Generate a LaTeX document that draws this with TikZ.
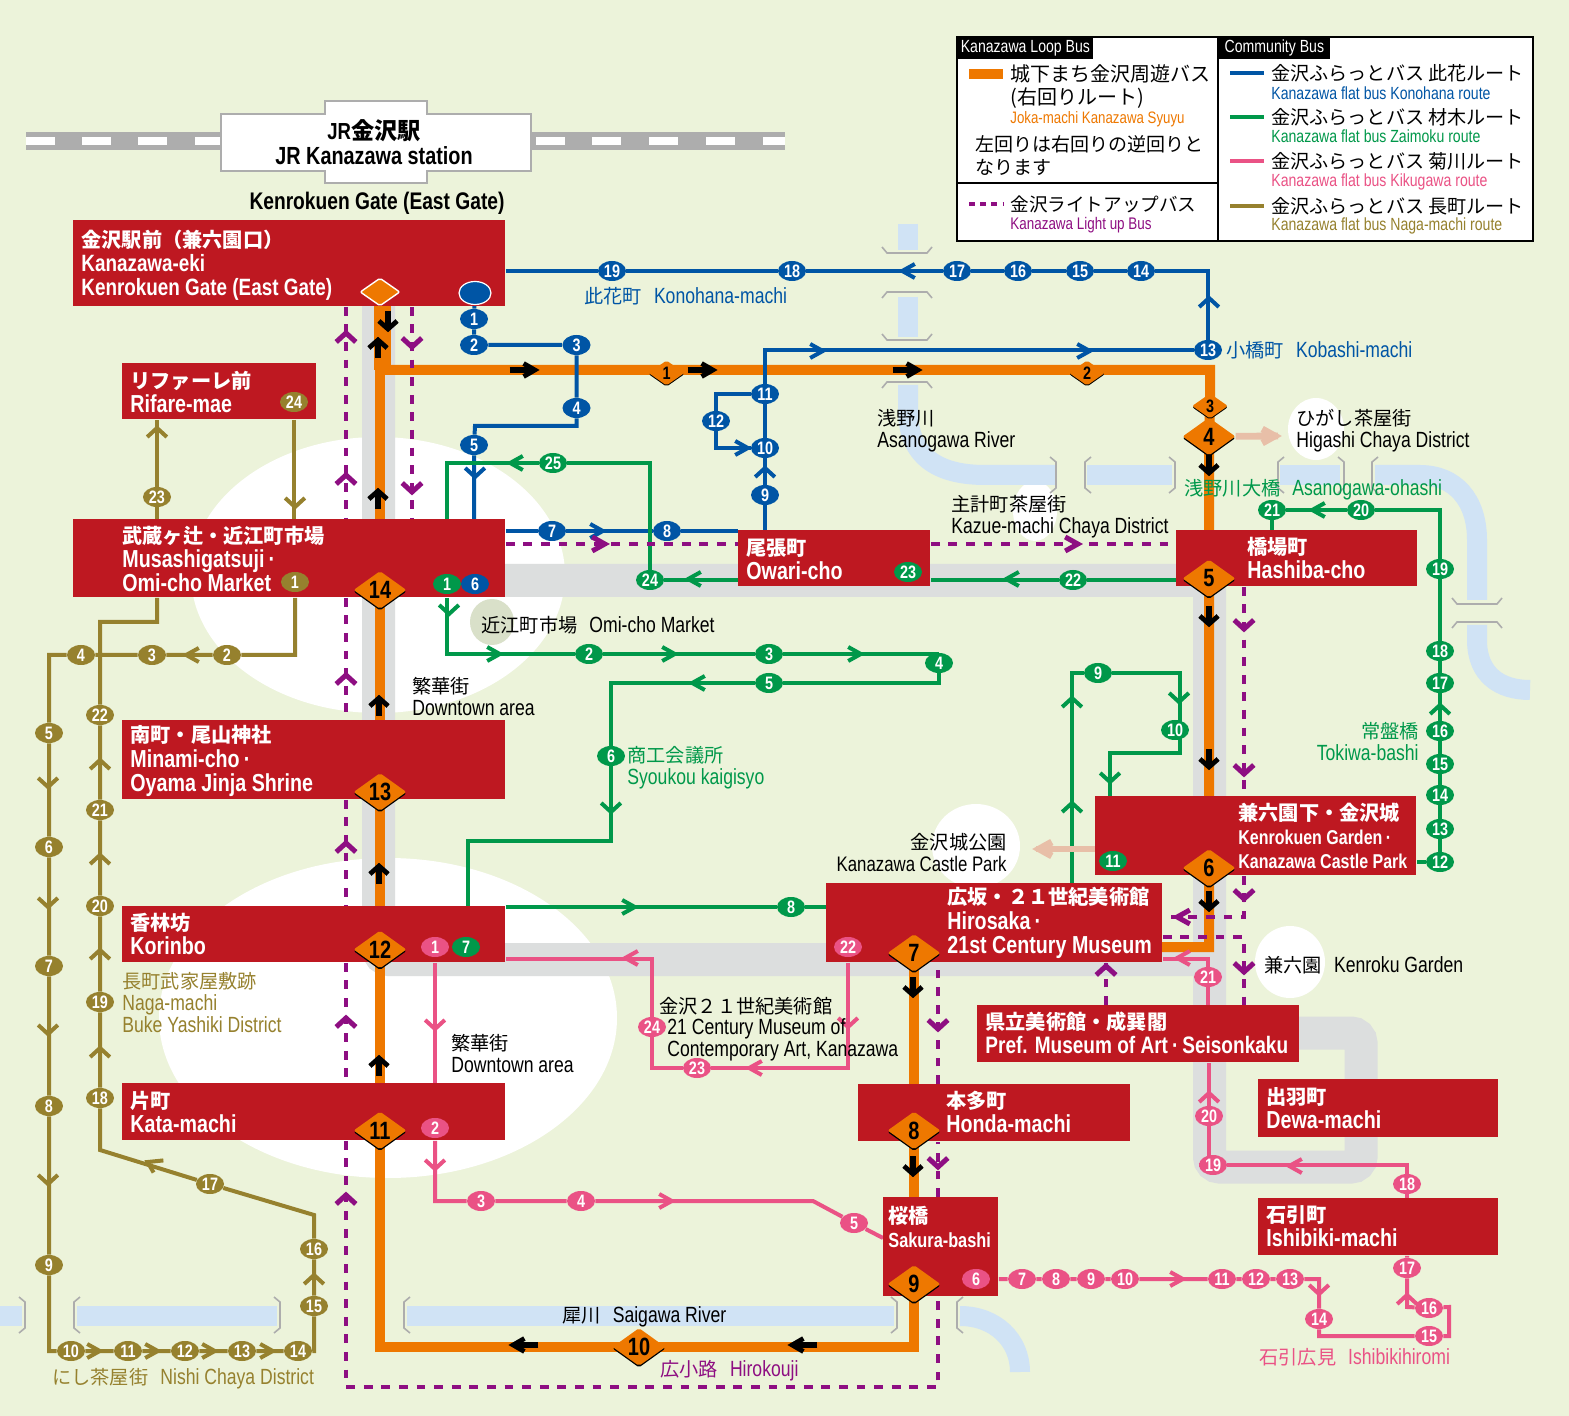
\documentclass[tikz,border=0pt]{standalone}
\usepackage{fontspec}
\setmainfont[FakeStretch=.8]{Liberation Sans}
\newfontfamily\jpf{Noto Sans CJK JP}
\newcommand{\jp}[1]{{\jpf #1}}
\newcommand{\jb}[1]{{\jpf\fontsize{10.1}{12.1}\selectfont #1}}
\newcommand{\jl}[1]{{\jpf\fontsize{9.6}{11}\selectfont #1}}
\usetikzlibrary{shapes.geometric,calc}
\pgfdeclarelayer{back}
\pgfdeclarelayer{rt}
\pgfsetlayers{back,rt,main}
\definecolor{cbg}{HTML}{ECF3DA}
\definecolor{cred}{HTML}{BE1821}
\definecolor{cor}{HTML}{EE7800}
\definecolor{cbl}{HTML}{0055A5}
\definecolor{cgr}{HTML}{00984A}
\definecolor{cpk}{HTML}{EA5285}
\definecolor{col}{HTML}{96812E}
\definecolor{cpu}{HTML}{8E0E82}
\definecolor{crv}{HTML}{D0E3F5}
\definecolor{crd}{HTML}{DCDEDE}
\definecolor{crl}{HTML}{ADADAD}
\definecolor{cpl}{HTML}{E8BFA8}
\tikzset{
  redbox/.style={fill=cred,anchor=north west,inner sep=0pt},
  boxtxt/.style={anchor=west,align=left,inner sep=0pt,text=white,font=\bfseries\fontsize{#1}{12.1}\selectfont},
  boxtxt/.default=12.3,
  lab/.style={anchor=west,align=left,inner sep=0pt,font=\fontsize{11}{11}\selectfont},
  legt/.style={anchor=west,inner sep=0pt,font=\fontsize{#1}{11}\selectfont},
  legt/.default=10,
  legs/.style={anchor=west,inner sep=0pt,font=\fontsize{#1}{10}\selectfont},
  legs/.default=8.8,
  stopn/.style={ellipse,inner sep=0pt,minimum width=14pt,minimum height=10pt,text=white,font=\bfseries\fontsize{9}{9}\selectfont},
  stopb/.style={stopn,fill=cbl},
  stopg/.style={stopn,fill=cgr},
  stopp/.style={stopn,fill=cpk},
  stopo/.style={stopn,fill=col},
  dgt/.style={inner sep=0pt,text=black,font=\bfseries\fontsize{12.5}{13}\selectfont},
  dia/.style={diamond,aspect=1.38,inner sep=0pt,minimum width=26.5pt,minimum height=19pt,fill=cor,rounded corners=1pt,preaction={fill=black,transform canvas={yshift=-.8pt}}},
  dias/.style={diamond,aspect=1.45,inner sep=0pt,minimum width=18pt,minimum height=12.6pt,fill=cor,rounded corners=1pt,preaction={fill=black,transform canvas={yshift=-.6pt}}},
  blul/.style={draw=cbl,line width=2pt},
  grnl/.style={draw=cgr,line width=2pt},
  pnkl/.style={draw=cpk,line width=2pt},
  olvl/.style={draw=col,line width=2pt},
  orgl/.style={draw=cor,line width=5pt},
  purl/.style={draw=cpu,line width=2.2pt,dash pattern=on 4.4pt off 4.4pt},
  palel/.style={draw=cpl,line width=3.4pt},
  river/.style={draw=crv,line width=10pt},
  road/.style={draw=crd,line width=16.5pt},
  hdg/.style={xscale=1.4,rotate=#1},
  pics/tip/.style={code={\draw[line width=#1,miter limit=8] (-7,-7) -- (2,0) -- (-7,7);}},
  pics/tip/.default=2pt,
  pics/blk/.style={code={\draw[line width=2.6pt] (-11,0) -- (6,0);\draw[line width=2.4pt,miter limit=8] (-1,-6.5) -- (7,0) -- (-1,6.5);}},
  pics/brg/.style={code={\draw[crl,line width=.8pt] (-#1,-3) -- (-#1+5,3) -- (#1-5,3) -- (#1,-3);}},
}
\begin{document}
\begin{tikzpicture}[x=.5pt,y=-.5pt]
\useasboundingbox (0,0) rectangle (1569,1416);

\begin{pgfonlayer}{back}
\fill[cbg] (0,0) rectangle (1569,1416);
% town areas
\fill[white] (378,575) ellipse [x radius=187,y radius=138];
\fill[white] (388,1018) ellipse [x radius=229,y radius=160];
\fill[white] (1316,429) ellipse [x radius=28,y radius=31];
\fill[white] (1035,511) ellipse [x radius=22,y radius=30];
\fill[white] (976,846) ellipse [x radius=44,y radius=42];
\fill[white] (1290,962) ellipse [x radius=35,y radius=36];
\fill[black!8!cbg] (492,622) ellipse [x radius=22,y radius=23];
% rivers
\draw[river] (908,224) -- (908,250);
\draw[river] (908,297) -- (908,337);
\draw[river] (908,385) -- (908,410) .. controls (908,450) and (930,475) .. (985,475) -- (1055,475);
\draw[river] (1087,475) -- (1172,475);
\draw[river] (1280,475) -- (1340,475);
\draw[river] (1375,475) -- (1420,475) .. controls (1455,475) and (1477,500) .. (1477,540) -- (1477,600);
\draw[river] (1477,625) -- (1477,640) .. controls (1477,675) and (1500,690) .. (1530,690);
\draw[river] (0,1316) -- (22,1316);
\draw[river] (77,1316) -- (277,1316);
\draw[river] (407,1316) -- (894,1316);
\draw[river] (960,1316) .. controls (995,1316) and (1020,1340) .. (1020,1372);
% roads
\draw[road,rounded corners=5pt] (378.5,306) -- (378.5,959.5) -- (1209.5,959.5);
\draw[road,rounded corners=5pt] (505,580.5) -- (1209.5,580.5) -- (1209.5,1167) -- (1361,1167) -- (1361,1033) -- (1290,1033);
% bridges
\foreach \x/\y in {907/250,907/337,1477/601} \pic at (\x,\y) {brg=25};
\foreach \x/\y in {907/295,907/385,1477/625} \pic[yscale=-1] at (\x,\y) {brg=25};
\foreach \x/\y in {1053/475,1172/475,1341/475,22/1315,277/1315,894/1315} \pic[rotate=90] at (\x,\y) {brg=18};
\foreach \x/\y in {1088/475,1281/475,1375/475,77/1315,407/1315,960/1315} \pic[rotate=90,yscale=-1] at (\x,\y) {brg=18};
% railway
\fill[crl] (26,132) rectangle (785,150);
\foreach \x in {26,82,138,195,536,592,649,706,763} \fill[white] (\x,137.5) rectangle ({min(\x+28.5,785)},145.5);
\end{pgfonlayer}

% station
\draw[crl,fill=white,line width=1.4pt] (221,114) -- (325,114) -- (325,101) -- (427,101) -- (427,114) -- (531,114) -- (531,171) -- (427,171) -- (427,183) -- (325,183) -- (325,171) -- (221,171) -- cycle;
\node[font=\bfseries\fontsize{11.6}{12}\selectfont,inner sep=0pt] (jrjp) at (374,131) {JR\jp{金沢駅}};
\node[font=\bfseries\fontsize{12.4}{12}\selectfont,inner sep=0pt] (jren) at (374,156) {JR Kanazawa station};
\node[font=\bfseries\fontsize{12}{12}\selectfont,inner sep=0pt] (gate) at (377,203) {Kenrokuen Gate (East Gate)};

% stop boxes
\foreach \n/\xa/\ya/\w/\h in {kanaz/73/220/432/86,rifa/122/363/194/56,musa/73/519/432/78,mina/122/720/383/79,kori/122/906/383/56,kata/122/1083/383/57,owar/738/530/192/56,hash/1176/530/241/56,kenr/1095/796/321/79,hiro/826/883/336/79,pref/977/1005/322/57,hond/858/1084/272/57,dewa/1258/1079/240/58,ishi/1258/1198/240/57,saku/883/1197/115/99}
  \node[redbox,minimum width=\w*.5pt,minimum height=\h*.5pt] (\n) at (\xa,\ya) {};

\node[boxtxt=11.8] (kanazt) at (81,265) {\jb{金沢駅前（兼六園口）}\\Kanazawa-eki\\Kenrokuen Gate (East Gate)};
\node[boxtxt] (rifat) at (130,392) {\jb{リファーレ前}\\Rifare-mae};
\node[boxtxt] (musat) at (122,559) {\jb{武蔵ヶ辻・近江町市場}\\Musashigatsuji\,·\\Omi-cho Market};
\node[boxtxt] (minat) at (130,761) {\jb{南町・尾山神社}\\Minami-cho\,·\\Oyama Jinja Shrine};
\node[boxtxt] (korit) at (130,934) {\jb{香林坊}\\Korinbo};
\node[boxtxt] (katat) at (130,1112) {\jb{片町}\\Kata-machi};
\node[boxtxt] (owart) at (746,559) {\jb{尾張町}\\Owari-cho};
\node[boxtxt] (hasht) at (1247,558) {\jb{橋場町}\\Hashiba-cho};
\node[boxtxt=10] (kenrt) at (1238,836) {\jb{兼六園下・金沢城}\\Kenrokuen Garden\,·\\Kanazawa Castle Park};
\node[boxtxt] (hirot) at (947,923) {\jb{広坂・２１世紀美術館}\\Hirosaka\,·\\21st Century Museum};
\node[boxtxt=11.9] (preft) at (985,1033) {\jb{県立美術館・成巽閣}\\Pref. Museum of Art\,·\,Seisonkaku};
\node[boxtxt] (hondt) at (946,1112) {\jb{本多町}\\Honda-machi};
\node[boxtxt] (dewat) at (1266,1108) {\jb{出羽町}\\Dewa-machi};
\node[boxtxt] (ishit) at (1266,1226) {\jb{石引町}\\Ishibiki-machi};
\node[boxtxt=10.2] (sakut) at (888,1227) {\jb{桜橋}\\Sakura-bashi};

% stops
\foreach \n/\x/\y in {1/474/319,2/474/345,3/576.5/345,4/576.5/408,5/474/445,6/475/584,7/552/531,8/667/531,9/765/495,10/765/448,11/765/394,12/716/421,13/1208/350,14/1141/271,15/1080/271,16/1018/271,17/957/271,18/792/271,19/612/271}
  \node[stopb] (b\n) at (\x,\y) {\n};
\foreach \n/\x/\y in {1/447/584,2/589/654,3/769/654,4/939/663,5/769/683,6/611/756,7/466/947,8/791/907,9/1098/673,10/1175/730,11/1113/861,12/1440/862,13/1440/829,14/1440/795,15/1440/764,16/1440/731,17/1440/683,18/1440/651,19/1440/569,20/1361/510,21/1272/510,22/1073/580,23/908/572,24/650/580,25/553/463}
  \node[stopg] (g\n) at (\x,\y) {\n};
\foreach \n/\x/\y in {1/435/947,2/435/1128,3/481/1201,4/581/1201,5/854/1223,6/976/1279,7/1022/1279,8/1056/1279,9/1091/1279,10/1125/1279,11/1222/1279,12/1256/1279,13/1290/1279,14/1319/1319,15/1429/1336,16/1429/1308,17/1407/1268,18/1407/1184,19/1213/1165,20/1209/1116,21/1208/977,22/848/947,23/697/1068,24/652/1027}
  \node[stopp] (p\n) at (\x,\y) {\n};
\foreach \n/\x/\y in {1/295/582,2/227/655,3/152/655,4/81/655,5/49/733,6/49/847,7/49/966,8/49/1106,9/49/1265,10/71/1351,11/128/1351,12/185/1351,13/242/1351,14/298/1351,15/314/1306,16/314/1249,17/210/1184,18/100/1098,19/100/1002,20/100/906,21/100/810,22/100/715,23/157/497,24/294/402}
  \node[stopo] (o\n) at (\x,\y) {\n};
\node[ellipse,fill=cbl,draw=white,line width=.6pt,inner sep=0pt,minimum width=16pt,minimum height=11.5pt] (bt) at (475,293) {};

% loop bus stops
\foreach \n/\x/\y in {4/1209/436.5,5/1209/578.5,6/1209/868,7/914/953,8/914/1130.5,9/914/1284,10/639/1347,11/380/1130.5,12/380/949.5,13/380/792,14/380/590}
  \node[dia,label={[dgt]center:\n}] (d\n) at (\x,\y) {};
\foreach \n/\x/\y in {1/666.5/373,2/1087/373,3/1210/406}
  \node[dias,label={[dgt,font=\bfseries\fontsize{9}{9}\selectfont]center:\n}] (d\n) at (\x,\y) {};
\node[diamond,aspect=1.4,inner sep=0pt,minimum width=20pt,minimum height=14pt,fill=cor,draw=white,line width=.7pt,rounded corners=1pt] (dt) at (380,292) {};

% bends of the routes
\coordinate (ojog) at (380,370);
\coordinate (oend) at (1162,947);
\coordinate (bk) at (475,426);
\coordinate (gk) at (468,841);
\coordinate (gv) at (1072,673);
\coordinate (gx) at (1180,753);
\coordinate (gy) at (1110,796);
\coordinate (pd) at (813,1201);
\coordinate (pe) at (883,1238);
\coordinate (pg) at (1449,1307);
\coordinate (ph) at (1407,1307);
\coordinate (pki) at (1000,959);
\coordinate (oa) at (314,1215);
\coordinate (ob) at (100,1150);
\coordinate (oc) at (157,622);
\coordinate (pl) at (346,1000);
\coordinate (pr) at (412,1000);
\coordinate (pq) at (938,1000);
\coordinate (ps) at (1244,1000);
\coordinate (pt) at (1106,1000);
\coordinate (pb) at (1000,1387);
\coordinate (pa) at (1000,917);
\coordinate (pc) at (1000,937);
\coordinate (pm) at (1000,544);
\coordinate (higa) at (1278,436);
\coordinate (cast) at (1036,849);

\begin{pgfonlayer}{rt}
% loop bus
\draw[draw=cor,line width=8.5pt] (382.5,306) -- (382.5,370);
\draw[orgl] (d14 |- ojog) -- (d14.center) -- (d13.center) -- (d12.center) -- (d11.center) -- (d11 |- d10) -- (d10.center) -- (d9 |- d10) -- (d9.center) -- (d8.center) -- (d7.center);
\draw[orgl] (ojog) -| (d3.center) -- (d4.center) -- (d5.center) -- (d6.center) -- (d6 |- oend) -- (oend);
% konohana
\draw[blul] (kanaz.east |- b19) -- (b19) -- (b18) -- (b17) -- (b16) -- (b15) -- (b14) -| (b13);
\draw[blul] (b13) -- (b13 -| b11) -- (b11) -- (b10) -- (b9) -- (b9 |- owar.north);
\draw[blul] (b11) -| (b12) -- (b12 |- b10) -- (b10);
\draw[blul] (bt) -- (b1) -- (b2) -- (b3) -- (b4) |- (bk) -- (b5) -- (b5 |- musa.north);
\draw[blul] (musa.east |- b7) -- (b7) -- (b8) -- (owar.west |- b8);
% zaimoku
\draw[grnl] (g1 |- musa.south) |- (g2) -- (g3) -| (g4) |- (g5) -| (g6) |- (gk) -- (gk |- kori.north);
\draw[grnl] (kori.east |- g8) -- (g8) -- (hiro.west |- g8);
\draw[grnl] (gv |- hiro.north) -- (gv) -- (g9) -| (gx) -| (gy);
\draw[grnl] (kenr.east |- g12) -- (g12) -- (g13) -- (g14) -- (g15) -- (g16) -- (g17) -- (g18) -- (g19) |- (g20) -- (g21) -- (g21 |- hash.north);
\draw[grnl] (hash.west |- g22) -- (g22) -- (owar.east |- g22);
\draw[grnl] (owar.west |- g24) -- (g24) |- (g25) -| (g1 |- musa.north);
% kikugawa
\draw[pnkl] (p1 |- kori.south) -- (p1 |- kata.north);
\draw[pnkl] (p2 |- kata.south) |- (p3) -- (p4) -- (pd) -- (p5) -- (pe);
\draw[pnkl] (saku.east |- p7) -- (p7) -- (p8) -- (p9) -- (p10) -- (p11) -- (p12) -- (p13) -| (p14) |- (p15) -| (pg) -- (p16) -- (ph) -- (p17) -- (p17 |- ishi.south);
\draw[pnkl] (p18 |- ishi.north) -- (p18) |- (p19) -| (p20) -- (p20 |- pref.south);
\draw[pnkl] (p21 |- pref.north) -- (p21) |- (hiro.east |- pki);
\draw[pnkl] (p22 |- hiro.south) |- (p23) -| (p24) |- (kori.east |- pki);
% naga-machi
\draw[olvl] (o24 |- rifa.south) -- (o24 |- musa.north);
\draw[olvl] (o23 |- musa.north) -- (o23) -- (o23 |- rifa.south);
\draw[olvl] (o1 |- musa.south) |- (o2) -- (o3) -- (o4) -| (o5) -- (o6) -- (o7) -- (o8) -- (o9) |- (o10) -- (o11) -- (o12) -- (o13) -- (o14) -| (o15) -- (o16) -- (oa) -- (o17) -- (ob) -- (o18) -- (o19) -- (o20) -- (o21) -- (o22) |- (oc) -- (oc |- musa.south);
% light up bus
\draw[purl] (pl |- kanaz.south) -- (pl |- musa.north);
\draw[purl] (pl |- musa.south) -- (pl |- mina.north);
\draw[purl] (pl |- mina.south) -- (pl |- kori.north);
\draw[purl] (pl |- kori.south) -- (pl |- kata.north);
\draw[purl] (pl |- kata.south) -- (pl |- pb) -- (pq |- pb) -- (pq |- saku.south);
\draw[purl] (pq |- saku.north) -- (pq |- hond.south);
\draw[purl] (pq |- hond.north) -- (pq |- hiro.south);
\draw[purl] (pr |- kanaz.south) -- (pr |- musa.north);
\draw[purl] (ps |- hash.south) -- (ps |- kenr.north);
\draw[purl] (ps |- kenr.south) -- (ps |- pa) -- (hiro.east |- pa);
\draw[purl] (hiro.east |- pc) -- (ps |- pc) -- (ps |- pref.north);
\draw[purl] (pt |- pref.north) -- (pt |- hiro.south);
\draw[purl] (musa.east |- pm) -- (owar.west |- pm);
\draw[purl] (owar.east |- pm) -- (hash.west |- pm);
% to the sights
\draw[palel] (d4) -- (higa);
\draw[palel] (kenr.west |- cast) -- (cast);
\end{pgfonlayer}

% arrows on the routes
\foreach \x/\y/\r in {475/475/270,600/531/0,765/470/90,745/448/0,820/351/0,1087/351/0,905/271/180,1209/300/90}
  \pic[color=cbl,hdg=\r] at (\x,\y) {tip};
\foreach \x/\y/\r in {449/612/270,497/654/0,672/654/0,858/654/0,695/683/180,611/810/270,632/907/0,1072/700/90,1072/805/90,1179/700/270,1110/780/270,1315/510/180,1009/579/180,691/579/180,513/463/180,1440/707/90}
  \pic[color=cgr,hdg=\r] at (\x,\y) {tip};
\foreach \x/\y/\r in {435/1027/270,435/1167/270,669/1201/0,1180/1279/0,1319/1292/270,1407/1297/90,1292/1166/180,1209/1095/90,1180/958/180,848/1025/270,752/1068/180,628/958/180}
  \pic[color=cpk,hdg=\r] at (\x,\y) {tip};
\foreach \x/\y/\r in {295/505/270,157/430/90,189/655/180,48/785/270,48/905/270,48/1032/270,48/1182/270,100/1050/90,100/952/90,100/857/90,100/762/90,150/1163/150,314/1277/90,97/1351/0,155/1351/0,212/1351/0,270/1351/0}
  \pic[color=col,hdg=\r] at (\x,\y) {tip};
\foreach \x/\y/\r in {346/335/90,346/477/90,346/677/90,346/845/90,346/1020/90,346/1197/90,412/345/270,412/490/270,938/1027/270,938/1165/270,1244/627/270,1244/772/270,1244/897/270,1244/970/270,1180/917/180,1106/968/90,602/544/0,1075/544/0}
  \pic[color=cpu,hdg=\r] at (\x,\y) {tip=2.5pt};
\foreach \x/\y/\r in {388/322/270,378/347/90,378/498/90,379/705/90,379/873/90,379/1065/90,525/370/0,703/370/0,908/370/0,1209/466/270,1209/617/270,1209/760/270,1209/902/270,913/988/270,913/1167/270,802/1345/180,523/1345/180}
  \pic[color=black,hdg=\r] at (\x,\y) {blk};
\pic[color=cpl,hdg=0] at (1272,436) {tip=3.4pt};
\pic[color=cpl,hdg=180] at (1042,849) {tip=3.4pt};

% labels
\node[lab,text=cbl] (konol) at (584,296) {\jl{此花町}\hspace{6pt}Konohana-machi};
\node[lab,text=cbl] (kobal) at (1226,350) {\jl{小橋町}\hspace{6pt}Kobashi-machi};
\node[lab] (asanl) at (877,431) {\jl{浅野川}\\Asanogawa River};
\node[lab] (higal) at (1296,431) {\jl{ひがし茶屋街}\\Higashi Chaya District};
\node[lab] (kazul) at (951,517) {\jl{主計町茶屋街}\\Kazue-machi Chaya District};
\node[lab,text=cgr] (ohasl) at (1184,490) {\jl{浅野川大橋}\hspace{6pt}Asanogawa-ohashi};
\node[lab] (omicl) at (481,625) {\jl{近江町市場}\hspace{6pt}Omi-cho Market};
\node[lab] (down1) at (412,697) {\jl{繁華街}\\Downtown area};
\node[lab,text=cgr,align=right,anchor=east] (tokil) at (1419,742) {\jl{常盤橋}\\Tokiwa-bashi};
\node[lab,text=cgr] (syoul) at (627,768) {\jl{商工会議所}\\Syoukou kaigisyo};
\node[lab,font=\fontsize{10.5}{11}\selectfont,align=right,anchor=east] (castl) at (1007,853) {\jl{金沢城公園}\\Kanazawa Castle Park};
\node[lab] (kengl) at (1264,965) {\jl{兼六園}\hspace{6pt}Kenroku Garden};
\node[lab,text=col] (nagal) at (122,1002) {\jl{長町武家屋敷跡}\\Naga-machi\\Buke Yashiki District};
\node[lab] (c21jp) at (659,1006) {\jl{金沢２１世紀美術館}};
\node[lab] (c21en) at (667,1040) {21 Century Museum of\\Contemporary Art, Kanazawa};
\node[lab] (down2) at (451,1054) {\jl{繁華街}\\Downtown area};
\node[lab] (saigl) at (562,1317) {\jl{犀川}\hspace{6pt}Saigawa River};
\node[lab,text=cpu] (hirol) at (660,1371) {\jl{広小路}\hspace{6pt}Hirokouji};
\node[lab,text=cpk] (ishil) at (1259,1357) {\jl{石引広見}\hspace{6pt}Ishibikihiromi};
\node[lab,text=col] (nisil) at (52,1379) {\jl{にし茶屋街}\hspace{6pt}Nishi Chaya District};

% legend
\draw[fill=white,line width=1pt] (957,37) rectangle (1533,241);
\draw[line width=.8pt] (1218,37) -- (1218,241);
\draw[line width=.8pt] (957,183) -- (1218,183);
\node[anchor=north west,fill=black,text=white,inner sep=0pt,minimum height=11pt,minimum width=68pt,font=\fontsize{8.8}{9}\selectfont] (legl) at (957,37) {Kanazawa Loop Bus};
\node[anchor=north west,fill=black,text=white,inner sep=0pt,minimum height=11pt,minimum width=56pt,font=\fontsize{8.8}{9}\selectfont] (legc) at (1218,37) {Community Bus};
\coordinate (sw1) at (969,74);
\coordinate (sw2) at (969,204);
\draw[orgl] (sw1) -- ++(34,0);
\draw[purl,dash pattern=on 3pt off 2.6pt] (sw2) -- ++(34,0);
\node[legt] (lj1) at (1010,74) {\jp{城下まち金沢周遊バス}};
\node[legt] (lj2) at (1010,98) {\jp{(右回りルート)}};
\node[legs=8.3,text=cor] (lj3) at (1010,119) {Joka-machi Kanazawa Syuyu};
\node[legt=9.5] (lj4) at (975,144) {\jp{左回りは右回りの逆回りと}};
\node[legt=9.5] (lj5) at (975,167) {\jp{なります}};
\node[legt=9.3] (lj6) at (1010,204) {\jp{金沢ライトアップバス}};
\node[legs=8.4,text=cpu] (lj7) at (1010,225) {Kanazawa Light up Bus};
\foreach \i/\c/\ya/\yb/\a/\b in {1/cbl/73/93/此花/Konohana,2/cgr/117/136/材木/Zaimoku,3/cpk/161/182/菊川/Kikugawa,4/col/206/226/長町/Naga-machi}{
  \draw[\c,line width=2.4pt] (1230,\ya) -- (1264,\ya);
  \node[legt=9.55] (lr\i) at (1271,\ya) {\jp{金沢ふらっとバス \a ルート}};
  \node[legs,text=\c] (le\i) at (1271,\yb) {Kanazawa flat bus \b{} route};
}
\end{tikzpicture}
\end{document}
